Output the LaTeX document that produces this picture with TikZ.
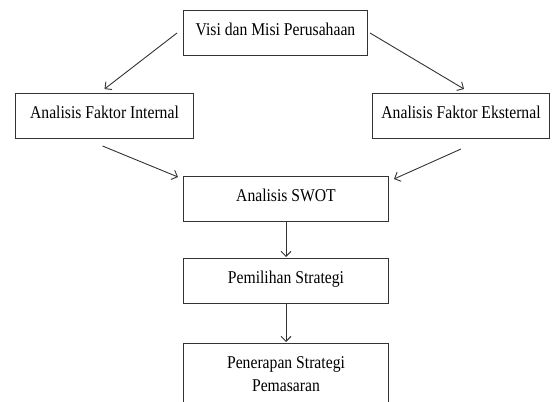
\documentclass[tikz,border=0pt]{standalone}
\usepackage{fontspec}
\setmainfont{Liberation Serif}[FakeStretch=0.87]
\usepackage{tikz}
\usetikzlibrary{arrows.meta,calc}
\tikzset{
	flowbox/.style={draw=black!80, line width=1pt, anchor=north west, inner ysep=0pt,
		text height=25pt, text depth=20pt, align=center,
		font=\fontsize{18}{23.3}\selectfont},
	flowarrow/.style={draw=black!80, line width=0.9pt, -{Straight Barb[length=5pt,width=10pt]}}
}

\begin{document}
\begin{tikzpicture}[x=1pt, y=-1pt]
	\useasboundingbox (0,0) rectangle (556,401);
%
	\node[flowbox, minimum width=184pt] (visi) at (183,10) {Visi dan Misi Perusahaan};
	\node[flowbox, minimum width=178pt] (internal) at (15,93) {Analisis Faktor Internal};
	\node[flowbox, minimum width=177pt] (eksternal) at (372,93) {Analisis Faktor Eksternal};
	\node[flowbox, minimum width=205pt] (swot) at (183,176) {Analisis SWOT};
	\node[flowbox, minimum width=205pt] (pilih) at (183,258) {Pemilihan Strategi};
	\node[flowbox, minimum width=205pt, text height=48.3pt, text depth=50pt] (terap) at (183,343) {Penerapan Strategi\\Pemasaran};
%
%	%arrows
	\draw[flowarrow] ([xshift=-6pt]visi.west) -- ([yshift=4pt]internal.north);
	\draw[flowarrow] ([xshift=2pt]visi.east) -- ([xshift=3pt,yshift=4pt]eksternal.north);
	\draw[flowarrow] ([xshift=-2pt,yshift=-7pt]internal.south) -- ([xshift=-5pt,yshift=-1pt]swot.north west);
	\draw[flowarrow] ([yshift=-10pt]eksternal.south) -- ([xshift=5pt,yshift=-3pt]swot.north east);
	\draw[flowarrow, shorten >=1pt] (swot) -- (pilih);
	\draw[flowarrow, shorten >=1pt] (pilih) -- (terap);
\end{tikzpicture}
\end{document}
